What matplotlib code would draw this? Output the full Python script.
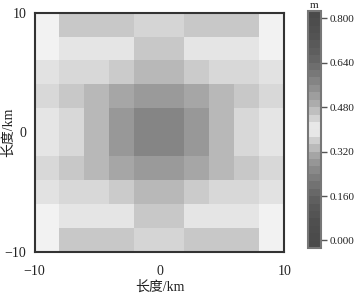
import numpy as np
import matplotlib
matplotlib.use('Agg')
import matplotlib.pyplot as plt
from matplotlib.colors import LinearSegmentedColormap, Normalize
from matplotlib.cm import ScalarMappable

plt.rcParams['font.family'] = ['Liberation Serif', 'Noto Sans CJK SC']
plt.rcParams['axes.unicode_minus'] = True

# grid edges (km)
x_edges = [-10, -8, -6, -4, -2, 0, 2, 4, 6, 8, 10]
y_edges = [-10, -8, -6, -4, -2, 0, 2, 4, 6, 8, 10]

# cell values (m), bottom row first
row_a = [0.400, 0.456, 0.456, 0.456, 0.438, 0.438, 0.456, 0.456, 0.456, 0.400]
row_b = [0.400, 0.418, 0.418, 0.418, 0.456, 0.456, 0.418, 0.418, 0.418, 0.400]
row_c = [0.422, 0.435, 0.435, 0.453, 0.477, 0.477, 0.453, 0.435, 0.435, 0.422]
row_d = [0.435, 0.456, 0.479, 0.510, 0.532, 0.532, 0.510, 0.479, 0.456, 0.435]
row_e = [0.418, 0.435, 0.479, 0.536, 0.574, 0.574, 0.536, 0.479, 0.435, 0.418]
values = [row_a, row_b, row_c, row_d, row_e, row_e, row_d, row_c, row_b, row_a]

# colour scale: dark - light - dark
vmin, vmax = -0.027, 0.827
cmap_vals = [-0.027, 0.05, 0.12, 0.18, 0.24, 0.30, 0.35, 0.40,
             0.45, 0.50, 0.56, 0.62, 0.68, 0.75, 0.827]
cmap_grays = [0x4a, 0x4e, 0x5a, 0x6c, 0x85, 0xa2, 0xc8, 0xf3,
              0xcc, 0xaa, 0x8c, 0x72, 0x60, 0x52, 0x4a]
cbar_ticks = [0.0, 0.16, 0.32, 0.48, 0.64, 0.80]

pos = [(v - vmin) / (vmax - vmin) for v in cmap_vals]
cols = [(g / 255, g / 255, g / 255) for g in cmap_grays]
cmap = LinearSegmentedColormap.from_list('grey_peak', list(zip(pos, cols)))
norm = Normalize(vmin=vmin, vmax=vmax)

fig = plt.figure(figsize=(3.58, 2.97), dpi=100)
ax = fig.add_axes([0.0964, 0.1515, 0.698, 0.806])
ax.pcolormesh(x_edges, y_edges, np.array(values), cmap=cmap, norm=norm)
ax.set_xlim(-10, 10)
ax.set_ylim(-10, 10)
ax.set_xticks([-10, 0, 10])
ax.set_yticks([-10, 0, 10])
ax.tick_params(length=0, labelsize=10, pad=9, colors='#222222')
ax.tick_params(axis='y', pad=6)
for s in ax.spines.values():
    s.set_linewidth(1.5)
    s.set_color('#333333')
ax.set_xlabel('长度/km', fontsize=10, labelpad=2, color='#222222')
ax.set_ylabel('长度/km', fontsize=10, color='#222222')
ax.yaxis.set_label_coords(-0.08, 0.5)

cax = fig.add_axes([0.859, 0.165, 0.0377, 0.799])
sm = ScalarMappable(norm=norm, cmap=cmap.resampled(32))
cb = fig.colorbar(sm, cax=cax, ticks=cbar_ticks, format='%.3f')
cb.outline.set_edgecolor('#777777')
cb.outline.set_linewidth(1.5)
cax.tick_params(length=4, width=1, labelsize=8, pad=2, colors='#555555', labelcolor='#222222')
cax.set_title('m', fontsize=8, pad=2, color='#222222')

fig.savefig('out.png', dpi=100)
